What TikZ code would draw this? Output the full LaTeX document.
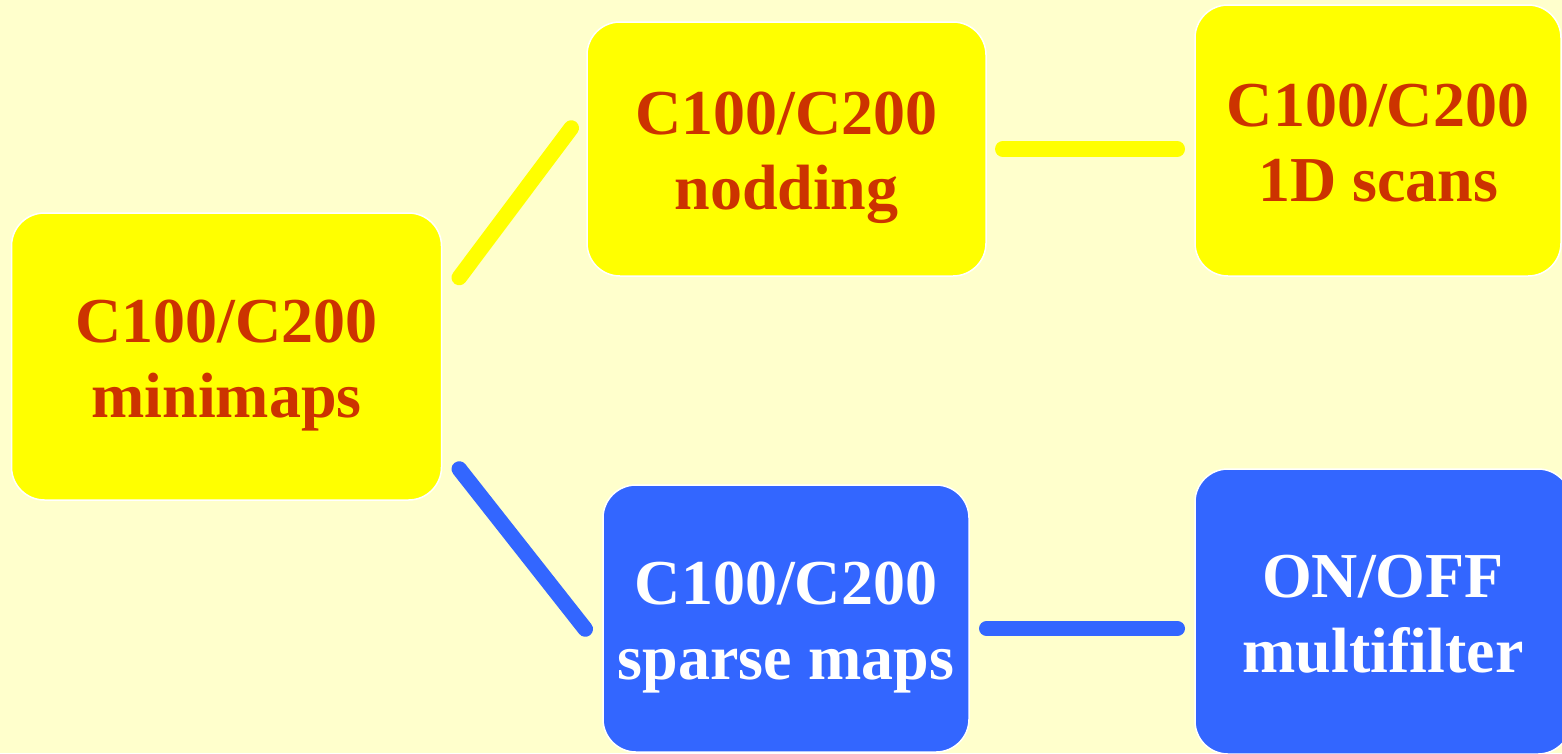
\documentclass[tikz,border=0pt]{standalone}
\usepackage{fontspec}
\setmainfont{Liberation Serif}
\definecolor{bgcream}{HTML}{FFFFCC}
\definecolor{boxyellow}{HTML}{FFFF00}
\definecolor{boxblue}{HTML}{3366FF}
\definecolor{textred}{HTML}{CC3300}

\begin{document}
\begin{tikzpicture}[x=1pt,y=-1pt,
  stage/.style={rectangle, rounded corners=33pt, draw=white, line width=1.5pt, inner sep=0pt},
  ybox/.style={stage, fill=boxyellow},
  bbox/.style={stage, fill=boxblue},
  boxtext/.style={align=center, inner sep=0pt, yshift=-8pt,
    font=\bfseries\fontsize{64}{75}\selectfont},
  redtext/.style={boxtext, text=textred},
  whitetext/.style={boxtext, text=white},
  ylink/.style={draw=boxyellow, line width=15.5pt, line cap=round},
  blink/.style={draw=boxblue, line width=15.5pt, line cap=round}]

\useasboundingbox (0,0) rectangle (1562,753);
\clip (0,0) rectangle (1562,753);
\fill[bgcream] (0,0) rectangle (1562,753);

% stage boxes
\node[ybox, minimum width=430pt, minimum height=287pt] (mini)   at (226.5,356.5) {};
\node[ybox, minimum width=399pt, minimum height=254pt] (nod)    at (786.5,149)   {};
\node[ybox, minimum width=366pt, minimum height=271pt] (scan)   at (1378,140.5)  {};
\node[bbox, minimum width=366pt, minimum height=267pt] (sparse) at (786,618.5)   {};
\node[bbox, minimum width=376pt, minimum height=285pt] (onoff)  at (1383,611.5)  {};

% box labels
\node[redtext]   (minitxt)   at (mini.center)   {\strut C100/C200\\\strut minimaps};
\node[redtext]   (nodtxt)    at (nod.center)    {\strut C100/C200\\\strut nodding};
\node[redtext]   (scantxt)   at (scan.center)   {\strut C100/C200\\\strut 1D scans};
\node[whitetext] (sparsetxt) at (sparse.center) {\strut C100/C200\\\strut sparse maps};
\node[whitetext] (onofftxt)  at (onoff.center)  {\strut ON/OFF\\\strut multifilter};

% connectors
\draw[ylink] ([shift={(17,-79)}]mini.east) -- ([shift={(-15,-21)}]nod.west);
\draw[ylink] ([shift={(16,0)}]nod.east) -- ([shift={(-17,8.5)}]scan.west);
\draw[blink] ([shift={(17,112.5)}]mini.east) -- ([shift={(-17,10.5)}]sparse.west);
\draw[blink] ([shift={(17,10)}]sparse.east) -- ([shift={(-17,17)}]onoff.west);
\end{tikzpicture}
\end{document}
